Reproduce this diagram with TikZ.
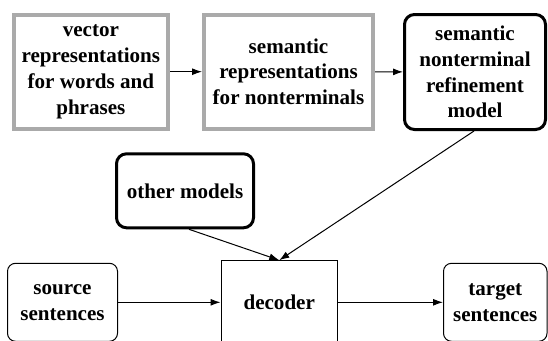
\documentclass[tikz,border=0pt]{standalone}
\usepackage{fontspec}
\setmainfont{Liberation Serif}
\usetikzlibrary{arrows.meta}
\definecolor{boxgray}{RGB}{170,170,170}
\begin{document}
\begin{tikzpicture}[x=1pt,y=-1pt,
  every node/.style={font=\rmfamily\fontsize{21.07}{25.8}\selectfont\bfseries, align=center, inner sep=0pt},
  graybox/.style={draw=boxgray, line width=4pt},
  boldbox/.style={draw=black, line width=3pt, rounded corners=10pt},
  thinround/.style={draw=black, line width=1pt, rounded corners=8pt},
  thinbox/.style={draw=black, line width=1pt},
  arr/.style={draw=black, line width=1pt, -{Latex[length=10pt,width=7pt]}}]
\useasboundingbox (0,0) rectangle (548,340);
\clip (0,0) rectangle (548,340);
\node[graybox, minimum width=154.3pt, minimum height=114pt] (b1) at (90.85,71.7) {vector\\representations\\for words and\\phrases};
\node[graybox, minimum width=169pt, minimum height=114pt] (b2) at (288.5,71.7) {semantic\\representations\\for nonterminals};
\node[boldbox, minimum width=141pt, minimum height=115pt] (b3) at (475,72) {semantic\\nonterminal\\refinement\\model};
\node[boldbox, minimum width=137pt, minimum height=74pt] (om) at (185,190.8) {other models};
\node[thinbox, minimum width=116.5pt, minimum height=83.2pt] (dec) at (279.25,302.3) {decoder};
\node[thinround, minimum width=110pt, minimum height=78pt] (src) at (62.5,302.3) {source\\sentences};
\node[thinround, minimum width=103.5pt, minimum height=78pt] (tgt) at (495.25,302.3) {target\\sentences};
\draw[arr] (b1) -- (b2);
\draw[arr] (b2) -- (b3);
\draw[arr] ([xshift=-1pt]b3.south) -- (dec.north);
\draw[arr] ([xshift=4pt]om.south) -- (dec.north);
\draw[arr] (src) -- (dec);
\draw[arr] (dec) -- (tgt);
\end{tikzpicture}
\end{document}
